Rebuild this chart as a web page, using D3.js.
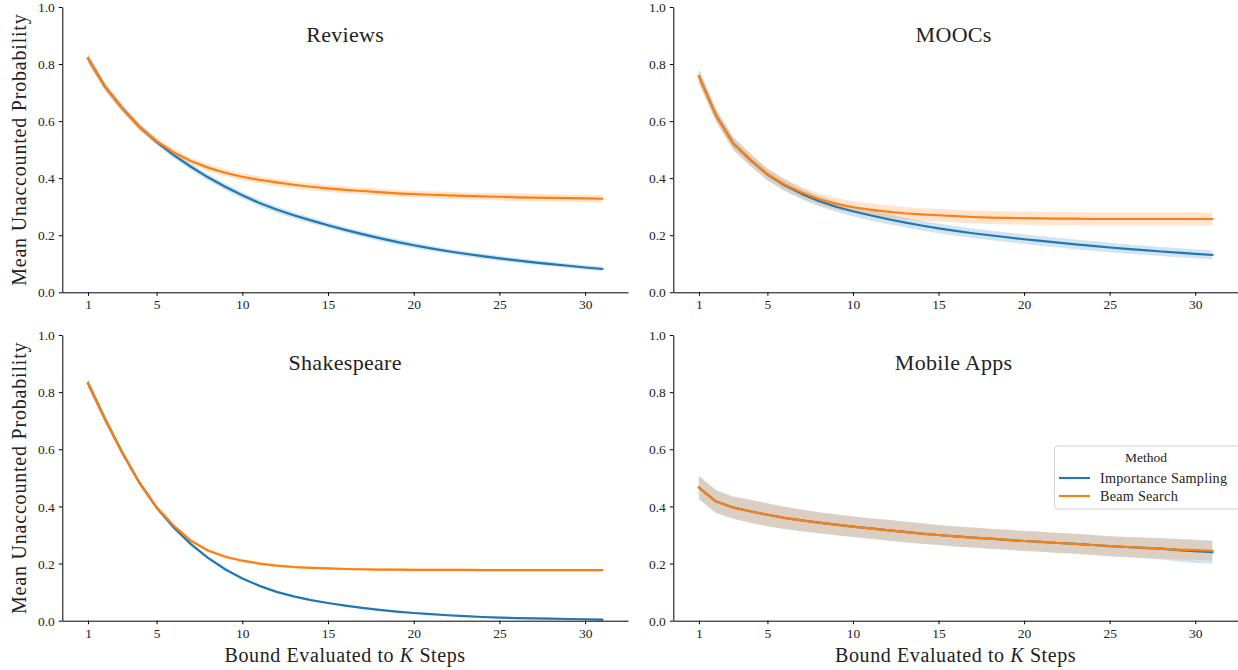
<!DOCTYPE html>
<html><head><meta charset="utf-8">
<script src="https://cdn.jsdelivr.net/npm/d3@7"></script>
<style>
html,body{margin:0;padding:0;background:#fff;}
svg text{font-family:"Liberation Serif","Times New Roman",serif;fill:#222;}
</style></head>
<body><svg id="c" width="1238" height="670"></svg>
<script>
const steps = d3.range(1, 32);
const xTicks = [1, 5, 10, 15, 20, 25, 30];
const yTicks = [0, 0.2, 0.4, 0.6, 0.8, 1.0];
const methods = ["Importance Sampling", "Beam Search"];
const panelTitles = ["Reviews", "MOOCs", "Shakespeare", "Mobile Apps"];

const reviewsIS = [0.82,0.72,0.645,0.58,0.527,0.481,0.44,0.403,0.37,0.34,0.313,0.29,0.27,0.252,0.235,0.219,0.204,0.19,0.177,0.165,0.154,0.144,0.135,0.127,0.119,0.112,0.105,0.099,0.093,0.087,0.082];
const reviewsBS = [0.82,0.72,0.645,0.58,0.53,0.49,0.46,0.437,0.419,0.405,0.394,0.385,0.377,0.37,0.364,0.359,0.355,0.351,0.347,0.344,0.342,0.34,0.338,0.336,0.335,0.333,0.332,0.331,0.33,0.329,0.328];
const reviewsISci = [0.016,0.014,0.013,0.012,0.011,0.011,0.011,0.011,0.011,0.011,0.011,0.011,0.011,0.011,0.01,0.01,0.01,0.01,0.01,0.01,0.009,0.009,0.009,0.009,0.009,0.008,0.008,0.008,0.008,0.008,0.008];
const reviewsBSci = [0.016,0.014,0.013,0.012,0.012,0.012,0.012,0.012,0.012,0.012,0.012,0.012,0.012,0.012,0.012,0.012,0.012,0.012,0.012,0.012,0.012,0.012,0.012,0.012,0.013,0.013,0.013,0.013,0.013,0.013,0.013];

const moocsIS = [0.757,0.62,0.522,0.464,0.413,0.375,0.345,0.32,0.30,0.284,0.27,0.257,0.245,0.234,0.224,0.215,0.207,0.20,0.193,0.186,0.18,0.174,0.168,0.163,0.157,0.152,0.148,0.143,0.139,0.135,0.131];
const moocsBS = [0.757,0.62,0.522,0.466,0.414,0.378,0.35,0.327,0.31,0.298,0.29,0.283,0.277,0.273,0.27,0.267,0.264,0.262,0.261,0.26,0.259,0.258,0.258,0.257,0.257,0.257,0.257,0.257,0.257,0.257,0.257];
const moocsISci = [0.025,0.022,0.022,0.021,0.02,0.02,0.019,0.018,0.018,0.018,0.018,0.018,0.017,0.017,0.017,0.017,0.017,0.017,0.017,0.017,0.017,0.017,0.017,0.017,0.017,0.016,0.016,0.016,0.016,0.016,0.016];
const moocsBSci = [0.026,0.023,0.022,0.022,0.021,0.021,0.02,0.02,0.021,0.021,0.022,0.022,0.022,0.022,0.022,0.022,0.023,0.023,0.023,0.023,0.023,0.023,0.023,0.023,0.023,0.023,0.023,0.023,0.023,0.023,0.023];

const shakesIS = [0.831,0.705,0.588,0.483,0.396,0.326,0.268,0.22,0.18,0.148,0.122,0.101,0.085,0.072,0.062,0.053,0.045,0.038,0.032,0.027,0.023,0.019,0.016,0.013,0.011,0.009,0.008,0.007,0.006,0.005,0.004];
const shakesBS = [0.831,0.705,0.588,0.483,0.397,0.332,0.28,0.246,0.224,0.21,0.2,0.193,0.188,0.185,0.183,0.181,0.18,0.179,0.179,0.178,0.178,0.178,0.178,0.177,0.177,0.177,0.177,0.177,0.177,0.177,0.177];
const shakesISci = [0.016,0.013,0.011,0.009,0.008,0.007,0.006,0.005,0.004,0.004,0.004,0.003,0.003,0.003,0.003,0.003,0.003,0.003,0.003,0.003,0.003,0.003,0.003,0.003,0.003,0.003,0.003,0.003,0.003,0.003,0.003];
const shakesBSci = [0.016,0.013,0.011,0.009,0.008,0.007,0.006,0.006,0.006,0.005,0.005,0.005,0.005,0.005,0.005,0.005,0.005,0.005,0.005,0.005,0.005,0.005,0.005,0.005,0.005,0.005,0.005,0.005,0.005,0.005,0.005];

const mobileIS = [0.466,0.417,0.396,0.383,0.371,0.36,0.351,0.343,0.336,0.329,0.323,0.317,0.311,0.305,0.30,0.295,0.291,0.287,0.283,0.279,0.276,0.272,0.269,0.265,0.261,0.258,0.255,0.252,0.247,0.243,0.24];
const mobileBS = [0.466,0.417,0.396,0.383,0.371,0.36,0.351,0.343,0.336,0.329,0.323,0.317,0.311,0.305,0.30,0.295,0.291,0.287,0.283,0.279,0.276,0.272,0.269,0.265,0.261,0.258,0.255,0.252,0.249,0.247,0.245];
const mobileISci = [0.04,0.04,0.039,0.04,0.04,0.039,0.038,0.037,0.037,0.036,0.036,0.036,0.036,0.036,0.035,0.035,0.035,0.035,0.035,0.035,0.035,0.035,0.035,0.035,0.035,0.036,0.036,0.038,0.04,0.041,0.041];
const mobileBSci = [0.041,0.04,0.039,0.04,0.04,0.039,0.038,0.037,0.037,0.036,0.036,0.036,0.036,0.036,0.035,0.035,0.035,0.035,0.035,0.035,0.035,0.035,0.035,0.035,0.035,0.035,0.035,0.035,0.035,0.034,0.034];

const colors = ["#1f77b4", "#ff7f0e"];

const panels = [
  {title: panelTitles[0], series: [[reviewsIS, reviewsISci], [reviewsBS, reviewsBSci]], x0: 62.3, x1: 628, y0: 7, y1: 292.3, left: true, bottom: false},
  {title: panelTitles[1], series: [[moocsIS, moocsISci], [moocsBS, moocsBSci]], x0: 673.3, x1: 1238, y0: 7, y1: 292.3, left: false, bottom: false},
  {title: panelTitles[2], series: [[shakesIS, shakesISci], [shakesBS, shakesBSci]], x0: 62.3, x1: 628, y0: 335, y1: 620.7, left: true, bottom: true},
  {title: panelTitles[3], series: [[mobileIS, mobileISci], [mobileBS, mobileBSci]], x0: 673.3, x1: 1238, y0: 335, y1: 620.7, left: false, bottom: true, legend: true}
];

const svg = d3.select("#c");
const serif = '"Liberation Serif","Times New Roman",serif';

panels.forEach(p => {
  const x = d3.scaleLinear().domain([-0.5, 32.5]).range([p.x0, p.x1]);
  const y = d3.scaleLinear().domain([0, 1]).range([p.y1, p.y0]);
  const g = svg.append("g");

  p.series.forEach(([vals, ci], i) => {
    const area = d3.area()
      .x((d, k) => x(steps[k]))
      .y0((d, k) => y(vals[k] - ci[k]))
      .y1((d, k) => y(vals[k] + ci[k]));
    g.append("path").datum(vals).attr("d", area)
      .attr("fill", colors[i]).attr("fill-opacity", 0.2).attr("stroke", "none");
  });
  p.series.forEach(([vals], i) => {
    const line = d3.line().x((d, k) => x(steps[k])).y(d => y(d));
    g.append("path").datum(vals).attr("d", line)
      .attr("fill", "none").attr("stroke", colors[i]).attr("stroke-width", 2.2)
      .attr("stroke-linejoin", "round").attr("stroke-linecap", "square");
  });

  const xAxis = g.append("g").attr("transform", `translate(0,${p.y1})`)
    .call(d3.axisBottom(x).tickValues(xTicks).tickSize(3.5).tickPadding(4).tickSizeOuter(0));
  const yAxis = g.append("g").attr("transform", `translate(${p.x0},0)`)
    .call(d3.axisLeft(y).tickValues(yTicks).tickFormat(d3.format(".1f")).tickSize(3.5).tickPadding(4).tickSizeOuter(0));
  [xAxis, yAxis].forEach(a => {
    a.style("font-family", serif);
    a.select(".domain").attr("stroke", "#000").attr("stroke-width", 1);
    a.selectAll(".tick line").attr("stroke", "#000").attr("stroke-width", 1);
    a.selectAll(".tick text").style("font-size", "13.5px").style("font-family", serif).attr("fill", "#222");
  });
  yAxis.selectAll(".tick text").attr("dy", "0.34em");

  g.append("text").attr("x", (p.x0 + p.x1) / 2 + (p.left ? 0 : -2)).attr("y", p.y0 + 35)
    .attr("text-anchor", "middle").style("font-size", "22px").attr("letter-spacing", 0.3).text(p.title);

  if (p.left) {
    g.append("text").attr("transform", `translate(26,${(p.y0 + p.y1) / 2}) rotate(-90)`)
      .attr("text-anchor", "middle").style("font-size", "20px").attr("letter-spacing", 0.8)
      .text("Mean Unaccounted Probability");
  }
  if (p.bottom) {
    const t = g.append("text").attr("x", (p.x0 + p.x1) / 2).attr("y", 662)
      .attr("text-anchor", "middle").style("font-size", "20px").attr("letter-spacing", 0.6);
    t.append("tspan").text("Bound Evaluated to ");
    t.append("tspan").style("font-style", "italic").text("K");
    t.append("tspan").text(" Steps");
  }
  if (p.legend) {
    const lg = g.append("g");
    lg.append("rect").attr("x", 1054.5).attr("y", 446).attr("width", 190).attr("height", 63)
      .attr("rx", 3).attr("fill", "#fff").attr("fill-opacity", 0.8).attr("stroke", "#d0d0d0").attr("stroke-width", 1);
    lg.append("text").attr("x", 1146).attr("y", 462).attr("text-anchor", "middle")
      .style("font-size", "13.5px").text("Method");
    methods.forEach((m, i) => {
      const yy = 478 + i * 18;
      lg.append("line").attr("x1", 1059).attr("x2", 1090).attr("y1", yy).attr("y2", yy)
        .attr("stroke", colors[i]).attr("stroke-width", 2.1);
      lg.append("text").attr("x", 1100).attr("y", yy + 4.5).style("font-size", "14.2px")
        .attr("letter-spacing", 0.25).text(m);
    });
  }
});
</script></body></html>
